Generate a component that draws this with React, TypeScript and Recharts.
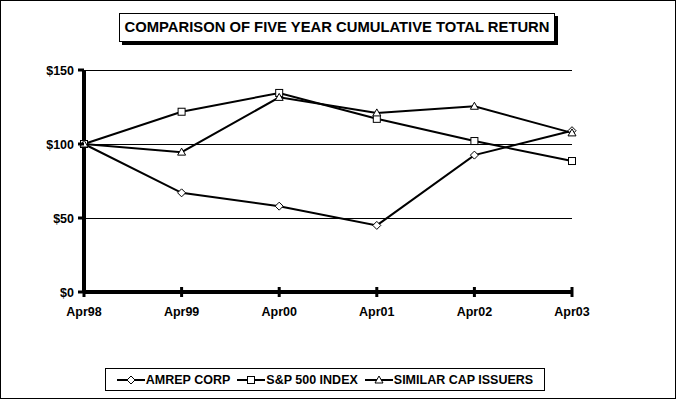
import React from 'react';
import { LineChart, Line, XAxis, YAxis, CartesianGrid } from 'recharts';

const categories = ['Apr98', 'Apr99', 'Apr00', 'Apr01', 'Apr02', 'Apr03'];
const amrep = [100, 67, 58, 45, 92.5, 109];
const sp500 = [100, 121.8, 134.5, 117, 102, 88.5];
const similar = [100, 94.5, 131.5, 121, 125.5, 107.5];
const yTicks = [0, 50, 100, 150];
const gridValues = [50, 100, 150];

const data = categories.map((c, i) => ({ name: c, amrep: amrep[i], sp500: sp500[i], similar: similar[i] }));

const FONT = '"Liberation Sans", Arial, sans-serif';

const Diamond = (props: any) => {
  const { cx, cy } = props;
  if (cx == null || cy == null) return null;
  const r = 4;
  return <path d={`M${cx},${cy - r}L${cx + r},${cy}L${cx},${cy + r}L${cx - r},${cy}Z`} fill="#fff" stroke="#000" strokeWidth={1} />;
};
const Square = (props: any) => {
  const { cx, cy } = props;
  if (cx == null || cy == null) return null;
  return <rect x={cx - 3.5} y={cy - 3.5} width={7} height={7} fill="#fff" stroke="#000" strokeWidth={1} />;
};
const Triangle = (props: any) => {
  const { cx, cy } = props;
  if (cx == null || cy == null) return null;
  return <path d={`M${cx},${cy - 4}L${cx + 4},${cy + 3}L${cx - 4},${cy + 3}Z`} fill="#fff" stroke="#000" strokeWidth={1} />;
};

const XTick = (props: any) => {
  const { x, y, payload } = props;
  return (
    <g>
      <line x1={x} x2={x} y1={y - 13} y2={y - 3} stroke="#000" strokeWidth={3} />
      <text x={x} y={y + 16} textAnchor="middle" fontFamily={FONT} fontWeight="bold" fontSize={12.5} fill="#000">{payload.value}</text>
    </g>
  );
};

const YTick = (props: any) => {
  const { x, y, payload } = props;
  return (
    <g>
      <line x1={x + 2} x2={x + 8} y1={y} y2={y} stroke="#000" strokeWidth={3} />
      <text x={x - 2} y={y + 4.5} textAnchor="end" fontFamily={FONT} fontWeight="bold" fontSize={12.5} fill="#000">{`$${payload.value}`}</text>
    </g>
  );
};

const GridLine = (props: any) => {
  const { x1, x2, y1 } = props;
  const yy = Math.round(y1) + 0.5;
  return <line x1={x1} x2={x2} y1={yy} y2={yy} stroke="#000" strokeWidth={1} shapeRendering="crispEdges" />;
};

const LegendIcon = ({ kind }: { kind: string }) => (
  <svg width={28} height={12} style={{ marginRight: 1 }}>
    <line x1={0} x2={28} y1={6} y2={6} stroke="#000" strokeWidth={2} />
    {kind === 'diamond' && <Diamond cx={14} cy={6} />}
    {kind === 'square' && <Square cx={14} cy={6} />}
    {kind === 'triangle' && <Triangle cx={14} cy={6} />}
  </svg>
);

const legendItems = [
  { label: 'AMREP CORP', kind: 'diamond' },
  { label: 'S&P 500 INDEX', kind: 'square' },
  { label: 'SIMILAR CAP ISSUERS', kind: 'triangle' },
];

export default function App() {
  return (
    <div style={{ position: 'absolute', left: 0, top: 0, width: 676, height: 399, background: '#fff' }}>
      <div style={{ position: 'absolute', left: 0, top: 0, width: 674, height: 397, border: '1px solid #000' }} />
      <LineChart width={676} height={399} data={data} margin={{ top: 70, right: 104, left: 0, bottom: 77 }}>
        <CartesianGrid vertical={false} horizontal={<GridLine />} horizontalValues={gridValues} />
        <XAxis dataKey="name" tick={<XTick />} tickLine={false} axisLine={{ stroke: '#000', strokeWidth: 4 }} padding={{ left: 0, right: 0 }} height={30} interval={0} />
        <YAxis domain={[0, 150]} ticks={yTicks} tick={<YTick />} tickLine={false} axisLine={{ stroke: '#000', strokeWidth: 4 }} width={84} interval={0} />
        <Line dataKey="amrep" stroke="#000" strokeWidth={2} dot={<Diamond />} isAnimationActive={false} />
        <Line dataKey="sp500" stroke="#000" strokeWidth={2} dot={<Square />} isAnimationActive={false} />
        <Line dataKey="similar" stroke="#000" strokeWidth={2} dot={<Triangle />} isAnimationActive={false} />
      </LineChart>
      <div style={{ position: 'absolute', left: 119, top: 13, width: 434, height: 27, border: '1px solid #000', boxShadow: '3px 3px 0 #000', background: '#fff', fontFamily: FONT, fontWeight: 'bold', fontSize: 14.8, lineHeight: '27px', textAlign: 'center', color: '#000', whiteSpace: 'nowrap' }}>
        COMPARISON OF FIVE YEAR CUMULATIVE TOTAL RETURN
      </div>
      <div style={{ position: 'absolute', left: 105, top: 368, width: 438, height: 21, border: '1px solid #000', background: '#fff', fontFamily: FONT, fontWeight: 'bold', fontSize: 12.5, display: 'flex', alignItems: 'center', justifyContent: 'center', gap: 7, color: '#000' }}>
        {legendItems.map((it) => (
          <span key={it.label} style={{ display: 'inline-flex', alignItems: 'center', whiteSpace: 'nowrap' }}>
            <LegendIcon kind={it.kind} />
            {it.label}
          </span>
        ))}
      </div>
    </div>
  );
}
